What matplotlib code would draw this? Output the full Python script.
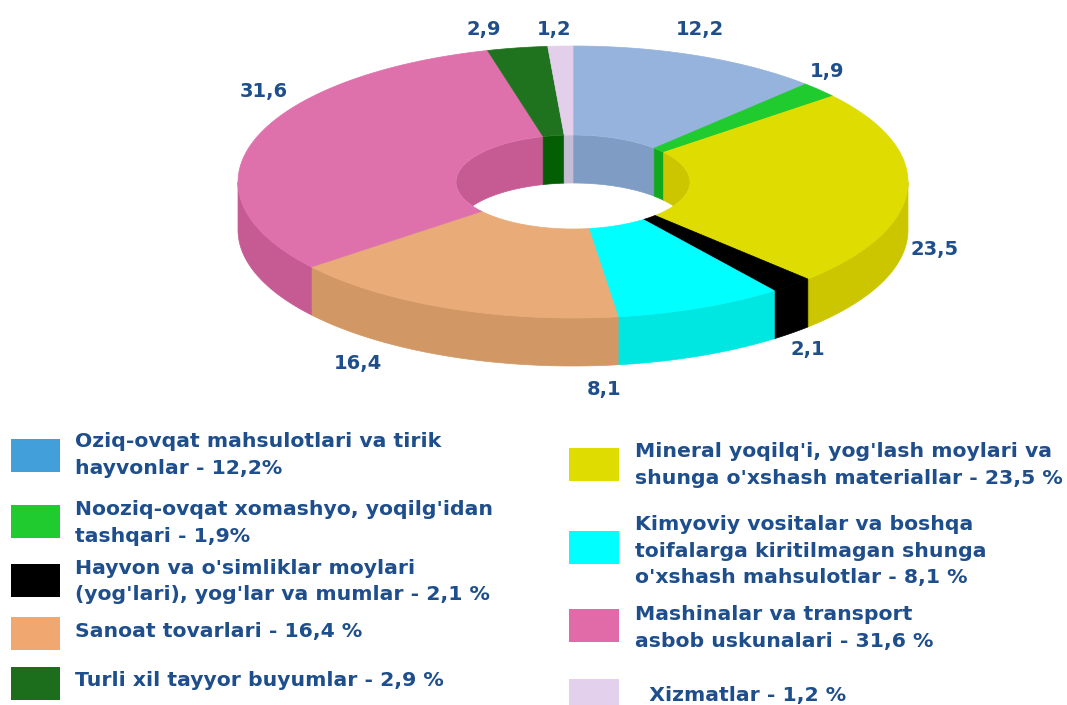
import numpy as np
import matplotlib
matplotlib.use("Agg")
import matplotlib.pyplot as plt
from matplotlib.patches import Polygon, Rectangle, Ellipse

plt.rcParams['font.family'] = ['DejaVu Sans']

# share of each group, clockwise from 12 o'clock
values = [12.2, 1.9, 23.5, 2.1, 8.1, 16.4, 31.6, 2.9, 1.2]
value_labels = ["12,2", "1,9", "23,5", "2,1", "8,1", "16,4", "31,6", "2,9", "1,2"]

top_colors = ["#95B3DC", "#1FCB2E", "#DEDC00", "#000000", "#00FFFF", "#E9AB78", "#DE71AC", "#1F731F", "#E3CFEA"]
wall_colors = ["#7E9CC4", "#12A81E", "#CBC600", "#000000", "#00E6E0", "#D19764", "#C65B94", "#045F04", "#C7BCD6"]

# the legend swatches are not quite the slice colours in the original
legend_left = ["Oziq-ovqat mahsulotlari va tirik\nhayvonlar - 12,2%",
               "Nooziq-ovqat xomashyo, yoqilg'idan\ntashqari - 1,9%",
               "Hayvon va o'simliklar moylari\n(yog'lari), yog'lar va mumlar - 2,1 %",
               "Sanoat tovarlari - 16,4 %",
               "Turli xil tayyor buyumlar - 2,9 %"]
legend_left_colors = ["#429FD9", "#1FCB2E", "#000000", "#F0A870", "#1C6E1C"]
legend_right = ["Mineral yoqilq'i, yog'lash moylari va\nshunga o'xshash materiallar - 23,5 %",
                "Kimyoviy vositalar va boshqa\ntoifalarga kiritilmagan shunga\no'xshash mahsulotlar - 8,1 %",
                "Mashinalar va transport\nasbob uskunalari - 31,6 %",
                "  Xizmatlar - 1,2 %"]
legend_right_colors = ["#DEDC00", "#00FFFF", "#E06BA8", "#E3D0EC"]

TEXT_COLOR = "#1F4E8C"

# pixel layout of the ring
cx, cy = 573, 182
rx_out, ry_out = 335, 136
rx_in, ry_in = 117, 47
depth = 48

label_pos = [(700, 29), (827, 72), (935, 250), (808, 349), (604, 390),
             (358, 363), (264, 91), (484, 29), (554, 29)]
left_swatch_y = [439, 505, 564, 617, 667]
left_text_y = [455, 523, 581.5, 632, 681]
right_swatch_y = [448, 531, 609, 679]
right_text_y = [465, 551.5, 628, 695]


def ring_arc(a0, a1, rx, ry, dy=0):
    t = np.radians(np.linspace(a0, a1, max(int(abs(a1 - a0)) * 2, 2)))
    return np.column_stack([cx + rx * np.sin(t), cy + dy - ry * np.cos(t)])


fig = plt.figure(figsize=(10.67, 7.05), dpi=100)
ax = fig.add_axes([0, 0, 1, 1])
ax.set_xlim(0, 1067)
ax.set_ylim(705, 0)
ax.axis("off")

edges = np.cumsum([0] + values) / sum(values) * 360
hole = Ellipse((cx, cy), 2 * rx_in, 2 * ry_in, transform=ax.transData)

for i in range(len(values)):
    a0, a1 = edges[i], edges[i + 1]

    # outer wall, front half only
    f0, f1 = max(a0, 90), min(a1, 270)
    if f1 > f0:
        upper = ring_arc(f0, f1, rx_out, ry_out)
        lower = ring_arc(f1, f0, rx_out, ry_out, depth)
        ax.add_patch(Polygon(np.vstack([upper, lower]), fc=wall_colors[i], ec=wall_colors[i], lw=0.5, zorder=1))

    # inner wall, back half only, cut off by the hole's rim
    for b0, b1 in [(a0, min(a1, 90)), (max(a0, 270), a1)]:
        if b1 > b0:
            upper = ring_arc(b0, b1, rx_in, ry_in)
            lower = ring_arc(b1, b0, rx_in, ry_in, depth)
            wall = Polygon(np.vstack([upper, lower]), fc=wall_colors[i], ec=wall_colors[i], lw=0.5, zorder=2)
            ax.add_patch(wall)
            wall.set_clip_path(hole)

    # top face
    outer = ring_arc(a0, a1, rx_out, ry_out)
    inner = ring_arc(a1, a0, rx_in, ry_in)
    ax.add_patch(Polygon(np.vstack([outer, inner]), fc=top_colors[i], ec=top_colors[i], lw=0.5, zorder=3))

for lab, (x, y) in zip(value_labels, label_pos):
    ax.text(x, y, lab, color=TEXT_COLOR, fontsize=14, fontweight="bold", ha="center", va="center")

# legend, left column then right column
for y, c in zip(left_swatch_y, legend_left_colors):
    ax.add_patch(Rectangle((11, y), 49, 33, fc=c, ec="none"))
for y, s in zip(left_text_y, legend_left):
    ax.text(75, y, s, color=TEXT_COLOR, fontsize=14.7, fontweight="bold", ha="left", va="center", linespacing=1.5)
for y, c in zip(right_swatch_y, legend_right_colors):
    ax.add_patch(Rectangle((569, y), 50, 33, fc=c, ec="none"))
for y, s in zip(right_text_y, legend_right):
    ax.text(635, y, s, color=TEXT_COLOR, fontsize=14.7, fontweight="bold", ha="left", va="center", linespacing=1.5)

fig.savefig("out.png", dpi=100)
